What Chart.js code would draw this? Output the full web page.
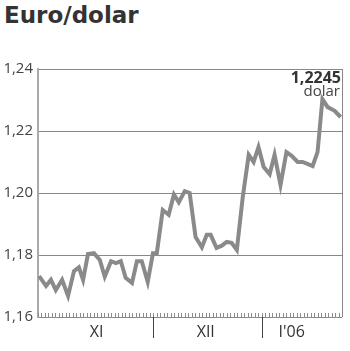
<!DOCTYPE html>
<html>
<head>
<meta charset="utf-8">
<script src="https://cdn.jsdelivr.net/npm/chart.js@4"></script>
<style>
  body { margin: 0; background: #fff; }
  #wrap { position: relative; width: 350px; height: 351px; }
  #title {
    position: absolute; left: 4px; top: 2px; margin: 0;
    font: 700 23px "DejaVu Sans", sans-serif; color: #333;
  }
  canvas { position: absolute; left: 0; top: 0; }
</style>
</head>
<body>
<div id="wrap">
  <h1 id="title">Euro/dolar</h1>
  <canvas id="chart" width="350" height="351"></canvas>
</div>
<script>
// days counted from the left edge of the axis (end of October 2005)
const days = [0.3, 2.3, 3.7, 5.1, 6.9, 8.6, 10.3, 11.7, 12.9, 14.3, 16, 17.7, 19.1, 20.9, 22.3,
  23.7, 25.1, 26.9, 28.3, 29.7, 31.4, 32.9, 34, 35.7, 37.4, 38.9, 40.3, 42, 43.4, 45.1, 46.9,
  48.3, 49.4, 51.1, 52.6, 54, 55.4, 56.9, 58.6, 60.3, 61.7, 63.1, 64.6, 66.3, 67.7, 69.4, 71.1,
  72.6, 74.3, 75.7, 77.1, 78.6, 80, 81.4, 82.9, 84.9, 86.6];
const rates = [1.1732, 1.170, 1.172, 1.1687, 1.172, 1.1668, 1.1748, 1.176, 1.172, 1.1803, 1.1806,
  1.1784, 1.173, 1.178, 1.1774, 1.178, 1.1726, 1.171, 1.178, 1.178, 1.1713, 1.1806, 1.1806,
  1.1945, 1.193, 1.1995, 1.197, 1.2006, 1.200, 1.1858, 1.1825, 1.1865, 1.1865, 1.1823, 1.183,
  1.1842, 1.1839, 1.1816, 1.1987, 1.2123, 1.210, 1.2148, 1.2084, 1.2061, 1.2123, 1.2026, 1.2132,
  1.212, 1.210, 1.210, 1.2094, 1.2087, 1.2132, 1.2303, 1.2277, 1.2265, 1.2245];

const monthLabels = ["XI", "XII", "I'06"];
const monthLabelDays = [16.8, 48, 72.6];
const monthBounds = [33, 64];
const lastDay = 87;

const yMin = 1.16, yMax = 1.24, yStep = 0.02;
const lastLabel = "1,2245";
const unitLabel = "dolar";

const decor = {
  id: "decor",
  beforeDatasetsDraw(chart) {
    const { ctx, chartArea } = chart;
    const xs = chart.scales.x;
    ctx.save();
    // small day ticks along the bottom, pointing up
    ctx.strokeStyle = "#8c8c8c";
    ctx.lineWidth = 1;
    ctx.beginPath();
    for (let d = 0; d <= lastDay; d++) {
      const x = Math.round(xs.getPixelForValue(d)) + 0.5;
      ctx.moveTo(x, chartArea.bottom - 4);
      ctx.lineTo(x, chartArea.bottom);
    }
    ctx.stroke();
    // month dividers below the axis
    ctx.strokeStyle = "#444";
    ctx.beginPath();
    monthBounds.forEach((d) => {
      const x = Math.round(xs.getPixelForValue(d)) + 0.5;
      ctx.moveTo(x, chartArea.bottom);
      ctx.lineTo(x, chartArea.bottom + 21);
    });
    ctx.stroke();
    // right border
    ctx.strokeStyle = "#888";
    ctx.beginPath();
    ctx.moveTo(Math.round(chartArea.right) + 0.5, chartArea.top);
    ctx.lineTo(Math.round(chartArea.right) + 0.5, chartArea.bottom);
    ctx.stroke();
    ctx.restore();
  },
  afterDraw(chart) {
    const { ctx, chartArea } = chart;
    const ys = chart.scales.y;
    const yLast = ys.getPixelForValue(rates[rates.length - 1]);
    ctx.save();
    ctx.textAlign = "right";
    ctx.textBaseline = "alphabetic";
    ctx.fillStyle = "#333";
    ctx.font = "700 16px 'Open Sans'";
    ctx.fillText(lastLabel, chartArea.right - 1, yLast - 34);
    ctx.fillStyle = "#444";
    ctx.font = "400 15px 'Open Sans'";
    ctx.fillText(unitLabel, chartArea.right - 2, yLast - 21);
    ctx.restore();
  },
};

new Chart(document.getElementById("chart"), {
  type: "line",
  data: {
    datasets: [
      {
        data: days.map((d, i) => ({ x: d, y: rates[i] })),
        borderColor: "#8a8a8a",
        borderWidth: 4,
        pointRadius: 0,
        tension: 0,
        borderJoinStyle: "miter",
      },
    ],
  },
  options: {
    responsive: false,
    animation: false,
    layout: { padding: { top: 69, right: 8, left: 0, bottom: 0 } },
    plugins: { legend: { display: false }, tooltip: { enabled: false } },
    scales: {
      x: {
        type: "linear",
        min: 0,
        max: lastDay,
        grid: { display: false, drawTicks: false },
        border: { display: false },
        afterBuildTicks: (scale) => {
          scale.ticks = monthLabelDays.map((v) => ({ value: v }));
        },
        afterFit: (scale) => {
          scale.height = 34;
        },
        ticks: {
          autoSkip: false,
          maxRotation: 0,
          padding: 6,
          color: "#333",
          font: { family: "'Open Sans'", size: 16 },
          callback: (v, i) => monthLabels[i],
        },
      },
      y: {
        min: yMin,
        max: yMax,
        grid: { color: "#888", lineWidth: 1, drawTicks: false },
        border: { display: true, color: "#aaa", width: 2 },
        afterFit: (scale) => {
          scale.width = 38;
        },
        ticks: {
          stepSize: yStep,
          padding: 5,
          color: "#444",
          font: { family: "'Open Sans'", size: 15 },
          callback: (v) => v.toFixed(2).replace(".", ","),
        },
      },
    },
  },
  plugins: [decor],
});
</script>
</body>
</html>
